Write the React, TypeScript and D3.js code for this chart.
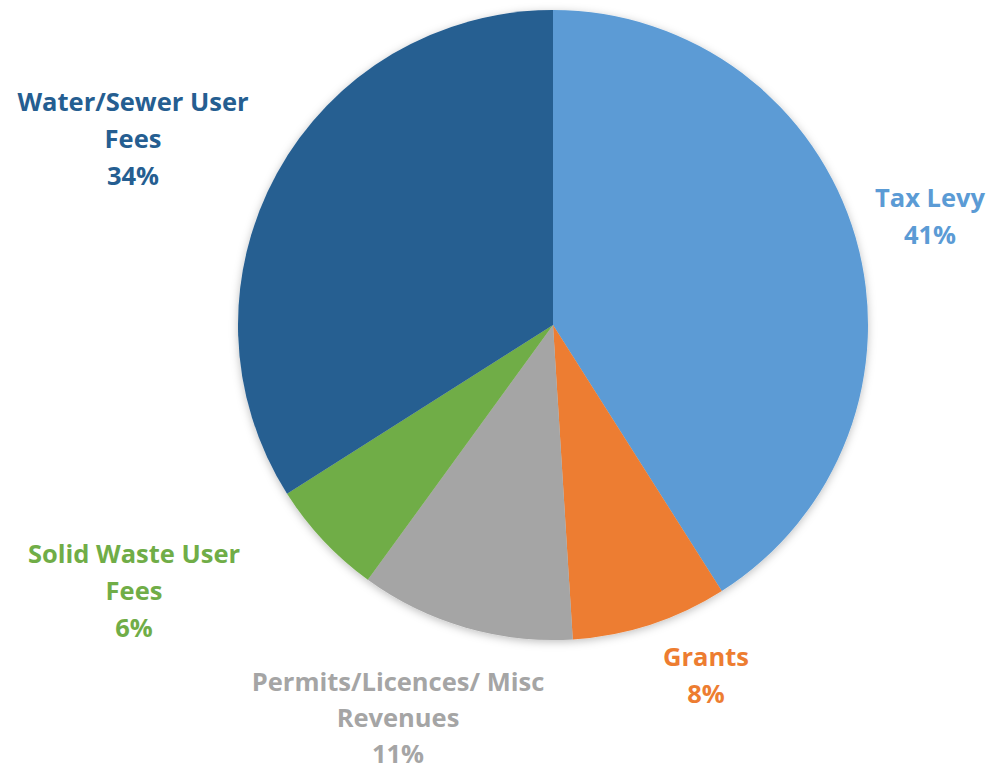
import React from "react";
import * as d3 from "d3";

const categories = ["Tax Levy", "Grants", "Permits/Licences/ Misc Revenues", "Solid Waste User Fees", "Water/Sewer User Fees"];
const values = [41, 8, 11, 6, 34];
const colors = ["#5B9BD5", "#ED7D31", "#A5A5A5", "#70AD47", "#255E91"];
const labelLines = [
  ["Tax Levy", "41%"],
  ["Grants", "8%"],
  ["Permits/Licences/ Misc", "Revenues", "11%"],
  ["Solid Waste User", "Fees", "6%"],
  ["Water/Sewer User", "Fees", "34%"],
];
// label anchor positions (center x, first baseline y, line spacing)
const labelPos = [
  [930, 207, 37],
  [706, 666, 37],
  [398, 691, 36],
  [134, 563, 37],
  [133, 111, 37],
];

export default function App() {
  const W = 987, H = 772;
  const cx = 553, cy = 325, r = 315;
  const pie = d3.pie<number>().sort(null).value((d) => d);
  const arcs = pie(values);
  const arc = d3.arc<d3.PieArcDatum<number>>().innerRadius(0).outerRadius(r);
  return (
    <svg width={W} height={H} style={{ position: "absolute", left: 0, top: 0, background: "#fff" }}>
      <defs>
        <filter id="sh" x="-10%" y="-10%" width="120%" height="120%">
          <feDropShadow dx="0" dy="2" stdDeviation="4" floodColor="#000" floodOpacity="0.25" />
        </filter>
      </defs>
      <g transform={`translate(${cx},${cy})`} filter="url(#sh)">
        {arcs.map((a, i) => (
          <path key={categories[i]} d={arc(a) || ""} fill={colors[i]} />
        ))}
      </g>
      {labelLines.map((lines, i) => (
        <text
          key={categories[i]}
          x={labelPos[i][0]}
          y={labelPos[i][1]}
          textAnchor="middle"
          fill={colors[i]}
          style={{ fontFamily: "'Open Sans', sans-serif", fontWeight: 700, fontSize: 25.5 }}
        >
          {lines.map((l, j) => (
            <tspan key={j} x={labelPos[i][0]} dy={j === 0 ? 0 : labelPos[i][2]}>
              {l}
            </tspan>
          ))}
        </text>
      ))}
    </svg>
  );
}
